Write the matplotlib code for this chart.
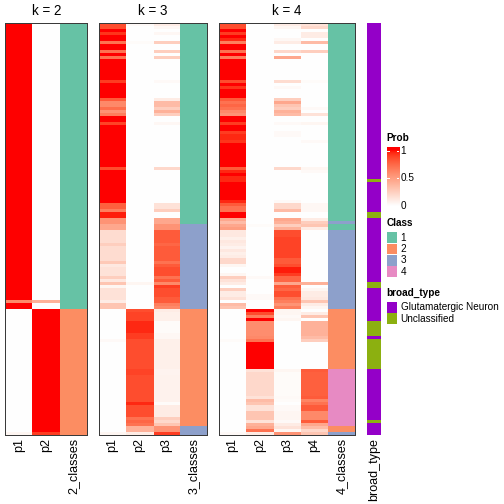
import numpy as np
import matplotlib
matplotlib.use("Agg")
import matplotlib.pyplot as plt
from matplotlib.colors import ListedColormap
from matplotlib.patches import Rectangle

plt.rcParams['font.family'] = ['Liberation Sans', 'DejaVu Sans']

# ---------------- data (run-length: (rows, value)) ----------------
k2_p1 = [(92, 1.0), (1, 0.6), (2, 1.0), (41, 0.0), (1, 0.05)]
k2_p2 = [(92, 0.0), (1, 0.4), (2, 0.0), (41, 1.0), (1, 0.9)]
k2_class = [(95, 1), (42, 2)]

k3_p1 = [(2, .85), (1, 1), (1, .92), (2, 1), (1, .7), (2, 1), (1, .7), (1, 1), (1, .7), (7, 1), (1, .9),
         (5, 1), (1, .8), (2, .6), (1, .72), (1, .55), (1, .65), (2, 1), (1, .88), (14, 1), (1, .85),
         (11, 1), (2, .78), (1, .65), (2, .97), (2, .55), (2, .45),
         (4, .18), (1, .25), (5, .18), (1, .28), (1, .12), (3, .15), (1, .25), (1, .12), (1, .3), (1, .05),
         (3, .15), (1, .15), (1, .1), (2, .3),
         (10, 0), (1, .03), (30, 0), (1, .05)]
k3_p2 = [(1, .03), (5, 0), (1, .02), (79, 0), (1, .05), (8, 0),
         (1, .85), (3, .88), (4, .95), (2, .9), (10, .85), (2, .88), (9, .85), (1, .95), (4, .85),
         (1, .7), (1, .75), (1, .7), (2, .4), (1, .1)]
k3_p3 = [(1, .1), (1, .04), (1, 0), (1, .04), (2, 0), (1, .25), (2, 0), (1, .25), (1, 0), (1, .25), (7, 0),
         (1, .03), (5, 0), (1, .1), (2, .35), (1, .25), (1, .4), (1, .25), (2, 0), (1, .04), (14, 0),
         (1, .2), (11, 0), (2, .15), (1, .25), (2, 0), (2, .45), (2, .55),
         (4, .8), (1, .75), (5, .8), (1, .7), (1, .8), (3, .85), (1, .7), (1, .8), (1, .6), (1, .9),
         (3, .85), (1, .8), (1, .8), (1, .65), (1, .6),
         (1, .1), (3, .08), (4, .02), (2, .04), (10, .08), (2, .06), (9, .07), (1, .02), (4, .1),
         (1, .25), (1, .2), (1, .3), (2, .55), (1, .9)]
k3_class = [(67, 1), (28, 3), (39, 2), (3, 3)]

k4_p1 = [(2, .85), (1, 1), (1, .9), (1, 1), (1, .95), (1, .65), (2, 1), (1, .7), (1, 1), (1, .65), (7, 1),
         (1, .85), (1, 1), (1, .92), (3, 1), (1, .8), (1, .7), (1, .75), (1, .7), (1, .6), (1, .55),
         (2, 1), (1, .9), (2, 1), (1, .9), (2, .95), (1, .92), (8, 1), (1, .8), (1, .95), (1, 1),
         (2, .95), (6, 1), (1, .95), (1, .8), (1, .7), (1, .7), (2, 1), (1, .45), (1, .35), (1, .45),
         (1, .5),
         (2, .12), (1, .08), (1, .12), (1, .1), (1, .06), (1, .12), (1, .08), (1, .1), (2, .2), (1, .05),
         (2, 0), (1, .05), (1, .25), (1, .15), (1, .1), (1, 0), (1, .25), (2, .1), (1, .15), (1, 0),
         (1, .35), (1, .3),
         (10, 0), (1, .02), (30, 0), (1, .03)]
k4_p2 = [(67, 0), (1, .02), (1, 0), (15, 0), (1, .03), (5, 0), (2, .03), (3, 0),
         (1, 1), (1, .85), (1, .65), (1, 1), (5, .58), (1, .6), (1, .7), (9, 1), (1, .15), (8, .2),
         (1, .15), (1, .35), (1, .3), (2, .15), (3, .3), (1, .15), (1, .4), (1, .45), (1, .7), (1, .1)]
k4_p3 = [(1, .1), (1, .05), (3, 0), (1, .04), (1, .1), (2, 0), (1, .2), (1, 0), (1, .45), (7, 0),
         (1, .18), (1, 0), (1, .03), (3, 0), (1, .25), (1, .45), (1, .3), (1, .25), (1, .4), (1, .35),
         (2, 0), (1, .03), (2, 0), (2, .03), (10, 0), (1, .2), (10, 0), (1, .03), (1, .2), (1, .2),
         (1, .35), (2, 0), (1, .45), (1, .4), (1, .25), (1, .4),
         (2, .85), (7, .88), (2, .8), (1, .85), (2, .97), (1, .9), (1, .75), (1, .75), (1, .45), (1, .8),
         (1, .75), (2, .85), (1, .7), (1, .65), (1, .55), (1, .65),
         (1, .05), (1, .05), (1, .03), (1, .05), (16, 0), (1, .05), (8, .02), (1, .03), (1, .02),
         (1, 0), (2, .03), (3, .05), (1, .03), (1, .1), (1, .15), (1, .05), (1, .55)]
k4_p4 = [(1, .15), (1, .2), (1, 0), (1, .1), (1, .1), (1, 0), (1, .35), (2, 0), (1, .25), (9, 0),
         (1, .02), (8, 0), (1, .03), (1, 0), (1, .15), (2, 0), (1, .05), (5, 0), (1, .03), (8, 0),
         (1, .05), (1, .03), (10, 0), (3, .04), (2, 0), (1, .1), (1, .25), (1, .3), (1, .1),
         (17, 0), (1, .4), (1, 0), (1, .05), (2, .1), (1, .12), (1, .3), (1, .1), (1, .05),
         (1, 0), (1, .1), (1, .3), (1, 0), (5, .4), (1, .35), (1, .25), (9, 0), (1, .8), (8, .78),
         (1, .8), (1, .62), (1, .7), (2, .8), (3, .6), (1, .8), (1, .45), (1, .35), (1, .2), (1, .3)]
k4_class = [(66, 1), (1, 3), (2, 1), (26, 3), (20, 2), (19, 4), (2, 2), (1, 3)]

broad_type = [(52, 'Glutamatergic Neuron'), (1, 'Unclassified'), (10, 'Glutamatergic Neuron'),
              (2, 'Unclassified'), (21, 'Glutamatergic Neuron'), (2, 'Unclassified'),
              (11, 'Glutamatergic Neuron'), (5, 'Unclassified'), (1, 'Glutamatergic Neuron'),
              (10, 'Unclassified'), (17, 'Glutamatergic Neuron'), (1, 'Unclassified'),
              (4, 'Glutamatergic Neuron')]

panel_titles = ['k = 2', 'k = 3', 'k = 4']
class_levels = ['1', '2', '3', '4']
class_colors = ['#66C2A5', '#FC8D62', '#8DA0CB', '#E78AC3']
broad_levels = ['Glutamatergic Neuron', 'Unclassified']
broad_colors = ['#9400C8', '#8CB010']


def expand(rle):
    return np.concatenate([np.repeat(np.array([v]), c) for c, v in rle])


# ---------------- LAB white->red colormap ----------------
def srgb_to_lab(rgb):
    rgb = np.asarray(rgb, float)
    lin = np.where(rgb <= 0.04045, rgb / 12.92, ((rgb + 0.055) / 1.055) ** 2.4)
    M = np.array([[0.4124, 0.3576, 0.1805], [0.2126, 0.7152, 0.0722], [0.0193, 0.1192, 0.9505]])
    xyz = M @ lin
    wp = np.array([0.95047, 1.0, 1.08883])
    t = xyz / wp
    f = np.where(t > (6 / 29) ** 3, np.cbrt(t), t / (3 * (6 / 29) ** 2) + 4 / 29)
    return np.array([116 * f[1] - 16, 500 * (f[0] - f[1]), 200 * (f[1] - f[2])])


def lab_to_srgb(lab):
    L, a, b = lab
    fy = (L + 16) / 116
    fx = fy + a / 500
    fz = fy - b / 200
    def finv(f):
        return np.where(f > 6 / 29, f ** 3, 3 * (6 / 29) ** 2 * (f - 4 / 29))
    wp = np.array([0.95047, 1.0, 1.08883])
    xyz = np.array([finv(fx), finv(fy), finv(fz)]) * wp
    Minv = np.array([[3.2406, -1.5372, -0.4986], [-0.9689, 1.8758, 0.0415], [0.0557, -0.2040, 1.0570]])
    lin = Minv @ xyz
    lin = np.clip(lin, 0, 1)
    rgb = np.where(lin <= 0.0031308, 12.92 * lin, 1.055 * lin ** (1 / 2.4) - 0.055)
    return np.clip(rgb, 0, 1)


lw_ = srgb_to_lab([1, 1, 1])
lr_ = srgb_to_lab([1, 0, 0])
cols = [lab_to_srgb(lw_ + (lr_ - lw_) * t) for t in np.linspace(0, 1, 256)]
prob_cmap = ListedColormap(cols)
class_cmap = ListedColormap(class_colors)
broad_cmap = ListedColormap(broad_colors)

# ---------------- figure ----------------
W = H = 504
fig = plt.figure(figsize=(7, 7), dpi=72)


def fr(x0, y0, x1, y1):
    return [x0 / W, 1 - y1 / H, (x1 - x0) / W, (y1 - y0) / H]


top, bot = 23.3, 435.0
panels = [
    (5.3, 87.3, [k2_p1, k2_p2], k2_class, ['p1', 'p2', '2_classes']),
    (98.5, 207.3, [k3_p1, k3_p2, k3_p3], k3_class, ['p1', 'p2', 'p3', '3_classes']),
    (218.7, 355.3, [k4_p1, k4_p2, k4_p3, k4_p4], k4_class, ['p1', 'p2', 'p3', 'p4', '4_classes']),
]
lab_fs = 12.5
for (x0, x1, probs, cls, names), title in zip(panels, panel_titles):
    ax = fig.add_axes(fr(x0, top, x1, bot))
    M = np.column_stack([expand(p) for p in probs])
    n, k = M.shape
    C = expand(cls).astype(int).reshape(-1, 1)
    ax.imshow(M, cmap=prob_cmap, vmin=0, vmax=1, aspect='auto', interpolation='nearest',
              extent=(0, k, n, 0))
    ax.imshow(C, cmap=class_cmap, vmin=0.5, vmax=4.5, aspect='auto', interpolation='nearest',
              extent=(k, k + 1, n, 0))
    ax.set_xlim(0, k + 1)
    ax.set_ylim(n, 0)
    ax.set_yticks([])
    ax.set_xticks(np.arange(k + 1) + 0.5)
    ax.set_xticklabels(names, rotation=90, fontsize=lab_fs, va='top', ha='center')
    ax.tick_params(axis='x', length=0, pad=3)
    for s in ax.spines.values():
        s.set_color('#3a3a3a')
        s.set_linewidth(1.0)
    fig.text((x0 + x1) / 2 / W, 1 - 11 / H, title, ha='center', va='center', fontsize=13.5)

# broad_type annotation
axb = fig.add_axes(fr(367, top, 381, bot))
B = expand(broad_type)
Bi = np.array([broad_levels.index(b) for b in B]).reshape(-1, 1)
axb.imshow(Bi, cmap=broad_cmap, vmin=-0.5, vmax=1.5, aspect='auto', interpolation='nearest',
           extent=(0, 1, len(Bi), 0))
axb.set_xlim(0, 1)
axb.set_ylim(len(Bi), 0)
axb.set_yticks([])
axb.set_xticks([0.5])
axb.set_xticklabels(['broad_type'], rotation=90, fontsize=lab_fs, va='top', ha='center')
axb.tick_params(axis='x', length=0, pad=3)
for s in axb.spines.values():
    s.set_visible(False)

# ---------------- legends ----------------
lx = 386.7
tx = 400.7
leg_fs = 10
fig.text(lx / W, 1 - 138 / H, 'Prob', fontsize=leg_fs, fontweight='bold', ha='left', va='center')
axc = fig.add_axes(fr(lx, 146.7, 399.3, 206))
grad = np.linspace(0, 1.07, 200).reshape(-1, 1)
axc.imshow(grad, cmap=prob_cmap, vmin=0, vmax=1, aspect='auto', origin='lower',
           extent=(0, 1, 0, 1.07))
axc.set_xlim(0, 1)
axc.set_ylim(0, 1.07)
axc.axis('off')
for v in [0.5, 1.0]:
    axc.plot([0, 0.18], [v, v], color='white', lw=1)
    axc.plot([0.82, 1], [v, v], color='white', lw=1)
for v, lab in [(1.0, '1'), (0.5, '0.5'), (0.0, '0')]:
    y = 206 - v * (206 - 150.7)
    fig.text(tx / W, 1 - y / H, lab, fontsize=leg_fs, ha='left', va='center')

fig.text(lx / W, 1 - 222.7 / H, 'Class', fontsize=leg_fs, fontweight='bold', ha='left', va='center')
for i, (lab, c) in enumerate(zip(class_levels, class_colors)):
    y0 = 232.3 + i * 11.3
    fig.patches.append(Rectangle((lx / W, 1 - (y0 + 10.6) / H), 10.6 / W, 10.6 / H,
                                 transform=fig.transFigure, facecolor=c, edgecolor='none'))
    fig.text(tx / W, 1 - (y0 + 5.3) / H, lab, fontsize=leg_fs, ha='left', va='center')

fig.text(lx / W, 1 - 293.3 / H, 'broad_type', fontsize=leg_fs, fontweight='bold', ha='left', va='center')
for i, (lab, c) in enumerate(zip(broad_levels, broad_colors)):
    y0 = 301.7 + i * 11.5
    fig.patches.append(Rectangle((lx / W, 1 - (y0 + 10.8) / H), 10.6 / W, 10.8 / H,
                                 transform=fig.transFigure, facecolor=c, edgecolor='none'))
    fig.text(tx / W, 1 - (y0 + 5.4) / H, lab, fontsize=leg_fs, ha='left', va='center')

fig.savefig('out.png', dpi=72)
